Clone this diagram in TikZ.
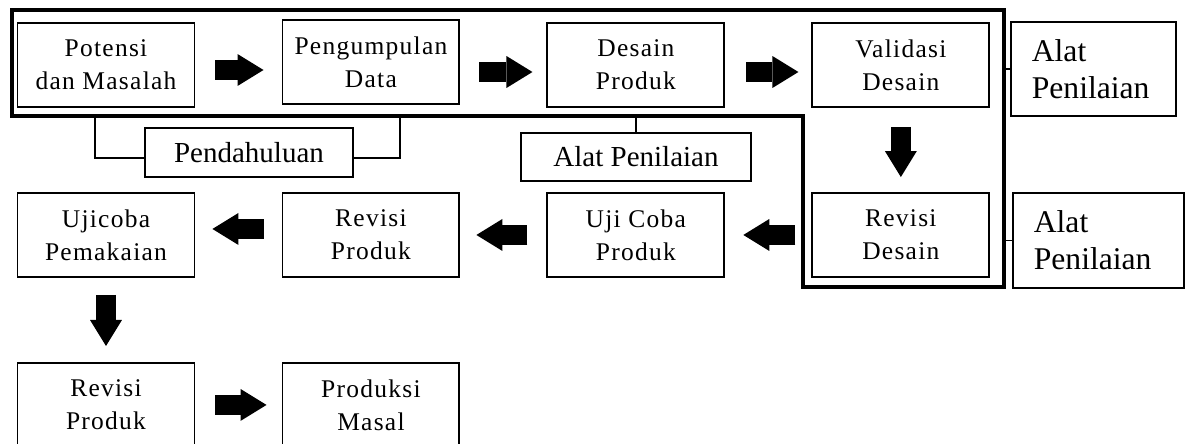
\documentclass[tikz,border=0pt]{standalone}
\usepackage{fontspec}
\setmainfont{Liberation Serif}
\newfontfamily\stagefont[LetterSpace=5]{Liberation Serif}
\usetikzlibrary{arrows.meta}
\tikzstyle{stage} = [rectangle, 
minimum width=3.54cm, 
minimum height=1.68cm, 
text centered, 
align=center,
draw=black, 
line width=1.1pt,
font=\stagefont\fontsize{14.5}{18.8}\selectfont]
\tikzstyle{tool} = [rectangle, 
draw=black, 
line width=1.1pt, 
inner sep=0pt,
font=\fontsize{16.5}{20}\selectfont]
\tikzstyle{toolside} = [rectangle, 
draw=black, 
line width=1.1pt, 
inner xsep=0.42cm, 
align=left,
font=\fontsize{18}{21}\selectfont]
\tikzstyle{blockarrow} = [line width=0.4cm,-{Triangle[width=0.64cm,length=0.52cm,line width=0pt]}]
\tikzstyle{link} = [line width=0.8pt]
\begin{document}
\begin{tikzpicture}[x=0.02cm, y=-0.02cm, node distance=5.3cm]
\useasboundingbox (0,0) rectangle (1192,443);
\clip (0,0) rectangle (1192,443);

\node (potensi) [stage] at (106,65) {Potensi\\dan Masalah};
\node (pengumpulan) [stage, right of=potensi, yshift=0.06cm] {Pengumpulan\\Data};
\node (desain) [stage, right of=pengumpulan, yshift=-0.06cm] {Desain\\Produk};
\node (validasi) [stage, right of=desain] {Validasi\\Desain};
\node (revdesain) [stage, below of=validasi, node distance=3.4cm] {Revisi\\Desain};
\node (ujiproduk) [stage, left of=revdesain] {Uji Coba\\Produk};
\node (revproduk) [stage, left of=ujiproduk] {Revisi\\Produk};
\node (ujicoba) [stage, left of=revproduk] {Ujicoba\\Pemakaian};
\node (revproduk2) [stage, below of=ujicoba, node distance=3.4cm] {Revisi\\Produk};
\node (produksi) [stage, right of=revproduk2] {Produksi\\Masal};

\node (alat1) [toolside, text width=2.46cm, minimum height=1.88cm, right of=validasi, xshift=-1.45cm, yshift=-0.08cm] {Alat\\Penilaian};
\node (alat2) [toolside, text width=2.58cm, minimum height=1.9cm, right of=revdesain, xshift=-1.35cm, yshift=-0.11cm] {Alat\\Penilaian};
\node (pendahuluan) [tool, minimum width=4.16cm, minimum height=0.98cm] at (249,152.5) {Pendahuluan};
\node (alat3) [tool, minimum width=4.6cm, minimum height=0.96cm] at (636,157) {Alat Penilaian};

% outline of the first stage
\coordinate (f1) at (12,10);
\coordinate (f2) at (1004,10);
\coordinate (f3) at (1004,287);
\coordinate (f4) at (803,287);
\coordinate (f5) at (803,116);
\coordinate (f6) at (12,116);
\draw [line width=2pt, line join=miter] (f1) -- (f2) -- (f3) -- (f4) -- (f5) -- (f6) -- cycle;

\coordinate (brL) at (95,116);
\coordinate (brR) at (400,116);
\draw [link] ([yshift=-0.11cm]pendahuluan.west) -| (brL);
\draw [link] ([yshift=-0.11cm]pendahuluan.east) -| (brR);
\draw [link] (alat3.north) -- (alat3.north |- f6);
\draw [link] (alat1.west) -- (alat1.west -| f2);
\draw [link] (alat2.west) -- (alat2.west -| f3);

\draw [blockarrow, shorten <=0.4cm, shorten >=0.36cm] ([yshift=-0.1cm]potensi.east) -- ([yshift=-0.1cm]potensi.east -| pengumpulan.west);
\draw [blockarrow, shorten <=0.38cm, shorten >=0.28cm] ([yshift=-0.14cm]desain.west -| pengumpulan.east) -- ([yshift=-0.14cm]desain.west);
\draw [blockarrow, shorten <=0.42cm, shorten >=0.26cm] ([yshift=-0.14cm]desain.east) -- ([yshift=-0.14cm]validasi.west);
\draw [blockarrow, shorten <=0.38cm, shorten >=0.3cm] (validasi) -- (revdesain);
\draw [blockarrow, shorten <=0.32cm, shorten >=0.36cm] (revdesain) -- (ujiproduk);
\draw [blockarrow, shorten <=0.38cm, shorten >=0.32cm] (ujiproduk) -- (revproduk);
\draw [blockarrow, shorten <=0.36cm, shorten >=0.34cm] ([yshift=0.12cm]revproduk.west) -- ([yshift=0.12cm]revproduk.west -| ujicoba.east);
\draw [blockarrow, shorten <=0.34cm, shorten >=0.32cm] (ujicoba) -- (revproduk2);
\draw [blockarrow, shorten <=0.4cm, shorten >=0.3cm] (revproduk2) -- (produksi);

\end{tikzpicture}
\end{document}
